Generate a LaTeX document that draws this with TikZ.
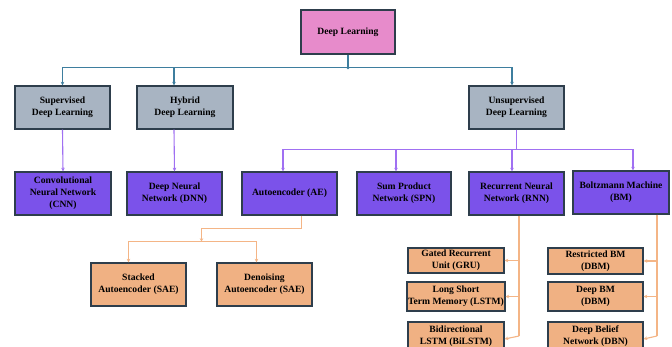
\documentclass[tikz,border=0pt]{standalone}
\usepackage{fontspec}
\setmainfont{Liberation Serif}
\usetikzlibrary{arrows.meta}
\definecolor{dlpink}{HTML}{E78BCB}
\definecolor{catgrey}{HTML}{A8B4C2}
\definecolor{netpurple}{HTML}{7B52EA}
\definecolor{suborange}{HTML}{F0B183}
\definecolor{boxborder}{HTML}{2E3E4C}
\definecolor{tealline}{HTML}{3E7E9E}
\definecolor{purpline}{HTML}{A070F2}
\definecolor{orangeline}{HTML}{F4B586}
\tikzset{
  box/.style={draw=boxborder, line width=1.4pt, rectangle, align=center, inner sep=1pt,
    font=\fontsize{9.6}{12}\selectfont\bfseries, text=black},
  rootbox/.style={box, fill=dlpink},
  catbox/.style={box, fill=catgrey},
  netbox/.style={box, fill=netpurple},
  subbox/.style={box, fill=suborange},
  tip/.style={-{Stealth[length=3.5pt,width=3.5pt]}},
  tconn/.style={draw=tealline, line width=1.1pt},
  pconn/.style={draw=purpline, line width=1.1pt},
  oconn/.style={draw=orangeline, line width=1.1pt},
}
\begin{document}
\begin{tikzpicture}[x=1pt,y=-1pt]
\clip (0,0) rectangle (672,346);
\fill[white] (0,0) rectangle (672,346);
% nodes
\node[rootbox, minimum width=94pt, minimum height=44pt] (dl) at (348,32) {Deep Learning};
\node[catbox, minimum width=95pt, minimum height=43pt] (sup) at (62.5,107.5) {Supervised\\Deep Learning};
\node[catbox, minimum width=96pt, minimum height=43pt] (hyb) at (185,107.5) {Hybrid\\Deep Learning};
\node[catbox, minimum width=95pt, minimum height=43pt] (uns) at (516.5,107.5) {Unsupervised\\Deep Learning};
\node[netbox, minimum width=96pt, minimum height=43pt] (cnn) at (63,193.5) {Convolutional\\Neural Network\\(CNN)};
\node[netbox, minimum width=95pt, minimum height=43pt] (dnn) at (174.5,193.5) {Deep Neural\\Network (DNN)};
\node[netbox, minimum width=95pt, minimum height=43pt] (ae) at (289.5,193.5) {Autoencoder (AE)};
\node[netbox, minimum width=94pt, minimum height=43pt] (spn) at (404,193.5) {Sum Product\\Network (SPN)};
\node[netbox, minimum width=95pt, minimum height=43pt] (rnn) at (516.5,193.5) {Recurrent Neural\\Network (RNN)};
\node[netbox, minimum width=96pt, minimum height=43pt] (bm) at (621,192.5) {Boltzmann Machine\\(BM)};
\node[subbox, minimum width=95pt, minimum height=43pt] (sae) at (138.5,284.5) {Stacked\\Autoencoder (SAE)};
\node[subbox, minimum width=95pt, minimum height=43pt] (dae) at (264.5,284.5) {Denoising\\Autoencoder (SAE)};
\node[subbox, minimum width=96pt, minimum height=25pt] (gru) at (456,260.5) {Gated Recurrent\\Unit (GRU)};
\node[subbox, minimum width=96pt, minimum height=29pt] (lstm) at (456,296.5) {Long Short\\Term Memory (LSTM)};
\node[subbox, minimum width=96pt, minimum height=28pt] (bilstm) at (456,336) {Bidirectional\\LSTM (BiLSTM)};
\node[subbox, minimum width=95pt, minimum height=26pt] (rbm) at (595.5,261) {Restricted BM\\(DBM)};
\node[subbox, minimum width=95pt, minimum height=29pt] (dbm) at (595.5,296.5) {Deep BM\\(DBM)};
\node[subbox, minimum width=95pt, minimum height=28pt] (dbn) at (595.5,336) {Deep Belief\\Network (DBN)};
% teal connectors
\draw[tconn] (dl.south) -- ++(0,13) coordinate (tj);
\fill[tealline] (tj) circle (1.6pt);
\draw[tconn, tip] (tj) -| (sup.north);
\draw[tconn, tip] (tj) -| ([xshift=-11pt]hyb.north);
\draw[tconn, tip] (tj) -| ([xshift=-4.5pt]uns.north);
% purple connectors
\draw[pconn, tip] (sup.south) -- (cnn.north);
\draw[pconn, tip] ([xshift=-11pt]hyb.south) -- (dnn.north);
\draw[pconn] (uns.south) -- ++(0,20) coordinate (pj);
\draw[pconn, tip] (pj) -| ([xshift=-6.5pt]ae.north);
\draw[pconn, tip] (pj) -| ([xshift=-8pt]spn.north);
\draw[pconn, tip] (pj) -| ([xshift=-4.5pt]rnn.north);
\draw[pconn, tip] (pj) -| ([xshift=12pt]bm.north);
% orange connectors: autoencoder
\draw[oconn, tip] ([xshift=12pt]ae.south) |- ++(-100,13) coordinate (oa) -- ++(0,13) coordinate (ob);
\draw[oconn, tip] (ob) -| ([xshift=-10pt]sae.north);
\draw[oconn, tip] (ob) -| ([xshift=-8pt]dae.north);
% orange connectors: RNN
\draw[oconn] ([xshift=2.5pt]rnn.south) -- ([xshift=2.5pt]rnn.south |- bilstm.east) coordinate (rb);
\draw[oconn, tip] (rb |- gru.east) -- (gru.east);
\draw[oconn, tip] (rb |- lstm.east) -- (lstm.east);
\draw[oconn, tip] (rb) -- ([yshift=-3pt]bilstm.east);
% orange connectors: BM
\draw[oconn] ([xshift=36pt]bm.south) -- ([xshift=36pt]bm.south |- dbn.east) coordinate (bb);
\draw[oconn, tip] (bb |- rbm.east) -- (rbm.east);
\draw[oconn, tip] (bb |- dbm.east) -- (dbm.east);
\draw[oconn, tip] (bb) -- ([yshift=-3pt]dbn.east);
\end{tikzpicture}
\end{document}
